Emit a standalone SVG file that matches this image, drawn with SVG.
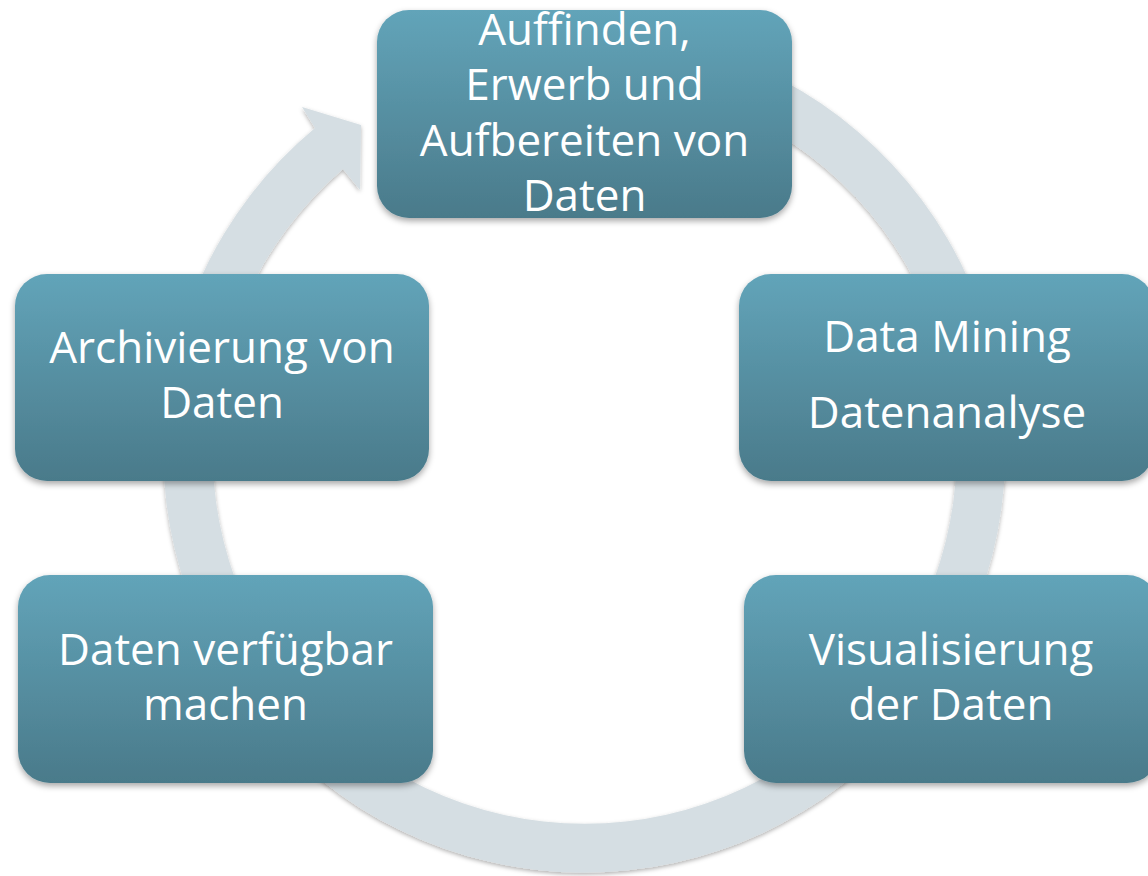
<svg xmlns="http://www.w3.org/2000/svg" width="1148" height="876" viewBox="0 0 1148 876">
<defs>
<linearGradient id="boxGrad" x1="0" y1="0" x2="0" y2="1">
<stop offset="0" stop-color="#62A4B9"/>
<stop offset="1" stop-color="#4A7A8A"/>
</linearGradient>
<filter id="shadow" x="-10%" y="-10%" width="120%" height="125%">
<feDropShadow dx="0" dy="3" stdDeviation="3" flood-color="#000" flood-opacity="0.35"/>
</filter>
<filter id="ringShadow" x="-5%" y="-5%" width="110%" height="110%">
<feDropShadow dx="0" dy="2" stdDeviation="2" flood-color="#000" flood-opacity="0.3"/>
</filter>
<style>
.box { fill: url(#boxGrad); filter: url(#shadow); }
.lbl { fill: #FFFFFF; font-family: "Open Sans", "Noto Sans", "DejaVu Sans", sans-serif; font-size: 44px; text-anchor: middle; }
.ring { fill: #D5DEE3; filter: url(#ringShadow); }
</style>
</defs>
<rect width="1148" height="876" fill="#FFFFFF"/>
<g id="connectors">
<path class="ring" d="M694.5,45.3 A421,421 0 1 1 315,128 L302,107 L361,125 L360,190 L343,169 A372,372 0 1 0 681.8,92.7 Z"/>
</g>
<g id="node-auffinden">
<rect class="box" x="377" y="10" width="415" height="208" rx="32" ry="32"/>
<text class="lbl" x="584.5" y="45">Auffinden,</text>
<text class="lbl" x="584.5" y="100">Erwerb und</text>
<text class="lbl" x="584.5" y="156">Aufbereiten von</text>
<text class="lbl" x="584.5" y="211">Daten</text>
</g>
<g id="node-datamining">
<rect class="box" x="739" y="274" width="415" height="207" rx="32" ry="32"/>
<text class="lbl" x="947" y="352">Data Mining</text>
<text class="lbl" x="947" y="428">Datenanalyse</text>
</g>
<g id="node-visualisierung">
<rect class="box" x="744" y="575" width="415" height="208" rx="32" ry="32"/>
<text class="lbl" x="951" y="665">Visualisierung</text>
<text class="lbl" x="951" y="720">der Daten</text>
</g>
<g id="node-verfuegbar">
<rect class="box" x="18" y="575" width="415" height="208" rx="32" ry="32"/>
<text class="lbl" x="225.5" y="665">Daten verfügbar</text>
<text class="lbl" x="225.5" y="720">machen</text>
</g>
<g id="node-archivierung">
<rect class="box" x="15" y="274" width="414" height="207" rx="32" ry="32"/>
<text class="lbl" x="222" y="363">Archivierung von</text>
<text class="lbl" x="222" y="418">Daten</text>
</g>
</svg>
